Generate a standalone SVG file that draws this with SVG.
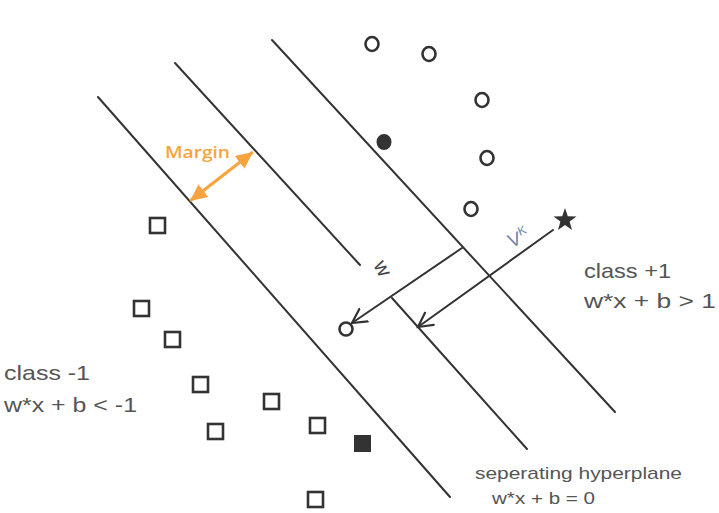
<svg xmlns="http://www.w3.org/2000/svg" width="719" height="513" viewBox="0 0 719 513">
<style>
.ln{stroke:#333;stroke-width:2;fill:none;stroke-linecap:round}
.pt{stroke:#333;stroke-width:2.6;fill:none}
.fp{fill:#333;stroke:#333;stroke-width:2}
.lbl{font-family:"Liberation Sans",Arial,sans-serif;font-size:21px;fill:#555}
.sm{font-family:"Liberation Sans",Arial,sans-serif;font-size:17px;fill:#555}
</style>
<defs>
<marker id="open" markerUnits="userSpaceOnUse" markerWidth="22" markerHeight="22" refX="15" refY="9" orient="auto">
<path d="M1,1.5 L15,9 L1,16.5" fill="none" stroke="#333" stroke-width="2.2" stroke-linecap="round"/>
</marker>
<marker id="og" markerUnits="userSpaceOnUse" markerWidth="22" markerHeight="22" refX="17" refY="9" orient="auto-start-reverse">
<path d="M0,1 L17,9 L0,17 Z" fill="#f7a440"/>
</marker>
</defs>
<rect width="719" height="513" fill="#fff"/>
<g id="connectors">
<line class="ln" x1="98" y1="97" x2="450" y2="497"/>
<line class="ln" x1="175" y1="63" x2="360" y2="265"/>
<line class="ln" x1="392" y1="298" x2="527" y2="449"/>
<line class="ln" x1="272" y1="40" x2="615" y2="412"/>
<line class="ln" x1="462" y1="248" x2="352" y2="323" marker-end="url(#open)"/>
<line class="ln" x1="553" y1="230" x2="418" y2="327" marker-end="url(#open)"/>
<line x1="190" y1="201" x2="253" y2="152" stroke="#f7a440" stroke-width="3" marker-start="url(#og)" marker-end="url(#og)"/>
</g>
<g id="margin-label"><text x="165" y="158" font-family="'Open Sans','Liberation Sans',sans-serif" font-size="16" font-weight="600" fill="#f7a440" textLength="65" lengthAdjust="spacingAndGlyphs">Margin</text></g>
<g id="vk-label"><text transform="translate(511,248) rotate(-22)" font-family="'Liberation Sans',sans-serif" font-size="19" fill="#6b86a8">V<tspan dy="-8" font-size="12">K</tspan></text></g>
<g id="w-label"><text transform="translate(373,265) rotate(62)" font-family="'Liberation Sans',sans-serif" font-size="21" fill="#444">w</text></g>
<g id="class-pos">
<ellipse class="pt" cx="372" cy="44" rx="6.5" ry="7"/>
<ellipse class="pt" cx="429" cy="54" rx="6.5" ry="7"/>
<ellipse class="pt" cx="482" cy="100" rx="6.5" ry="7"/>
<ellipse class="pt" cx="487" cy="158" rx="6.5" ry="7"/>
<ellipse class="pt" cx="471" cy="209" rx="6.5" ry="7"/>
<ellipse class="fp" cx="384" cy="142" rx="6.5" ry="7"/>
<ellipse class="pt" cx="346" cy="329" rx="6.5" ry="6.5"/>
<path d="M565,208 L567.8,216.2 L576.5,216.4 L569.6,221.6 L572,230 L565,225 L558,230 L560.4,221.6 L553.5,216.4 L562.2,216.2 Z" fill="#333"/>
</g>
<g id="class-neg">
<rect class="pt" x="150" y="218" width="15" height="15"/>
<rect class="pt" x="134" y="301" width="15" height="15"/>
<rect class="pt" x="165" y="332" width="15" height="15"/>
<rect class="pt" x="193" y="377" width="15" height="15"/>
<rect class="pt" x="208" y="424" width="15" height="15"/>
<rect class="pt" x="264" y="394" width="15" height="15"/>
<rect class="pt" x="310" y="418" width="15" height="15"/>
<rect class="pt" x="308" y="492" width="15" height="15"/>
<rect class="fp" x="355" y="436" width="15" height="15"/>
</g>
<g id="text-pos">
<text class="lbl" x="584" y="278" textLength="87" lengthAdjust="spacingAndGlyphs">class +1</text>
<text class="lbl" x="584" y="308" textLength="132" lengthAdjust="spacingAndGlyphs">w*x + b &gt; 1</text>
</g>
<g id="text-neg">
<text class="lbl" x="4" y="380" textLength="86" lengthAdjust="spacingAndGlyphs">class -1</text>
<text class="lbl" x="4" y="412" textLength="133" lengthAdjust="spacingAndGlyphs">w*x + b &lt; -1</text>
</g>
<g id="hyperplane-label">
<text class="sm" x="475" y="479" textLength="207" lengthAdjust="spacingAndGlyphs">seperating hyperplane</text>
<text class="sm" x="492" y="504" textLength="103" lengthAdjust="spacingAndGlyphs">w*x + b = 0</text>
</g>
</svg>
